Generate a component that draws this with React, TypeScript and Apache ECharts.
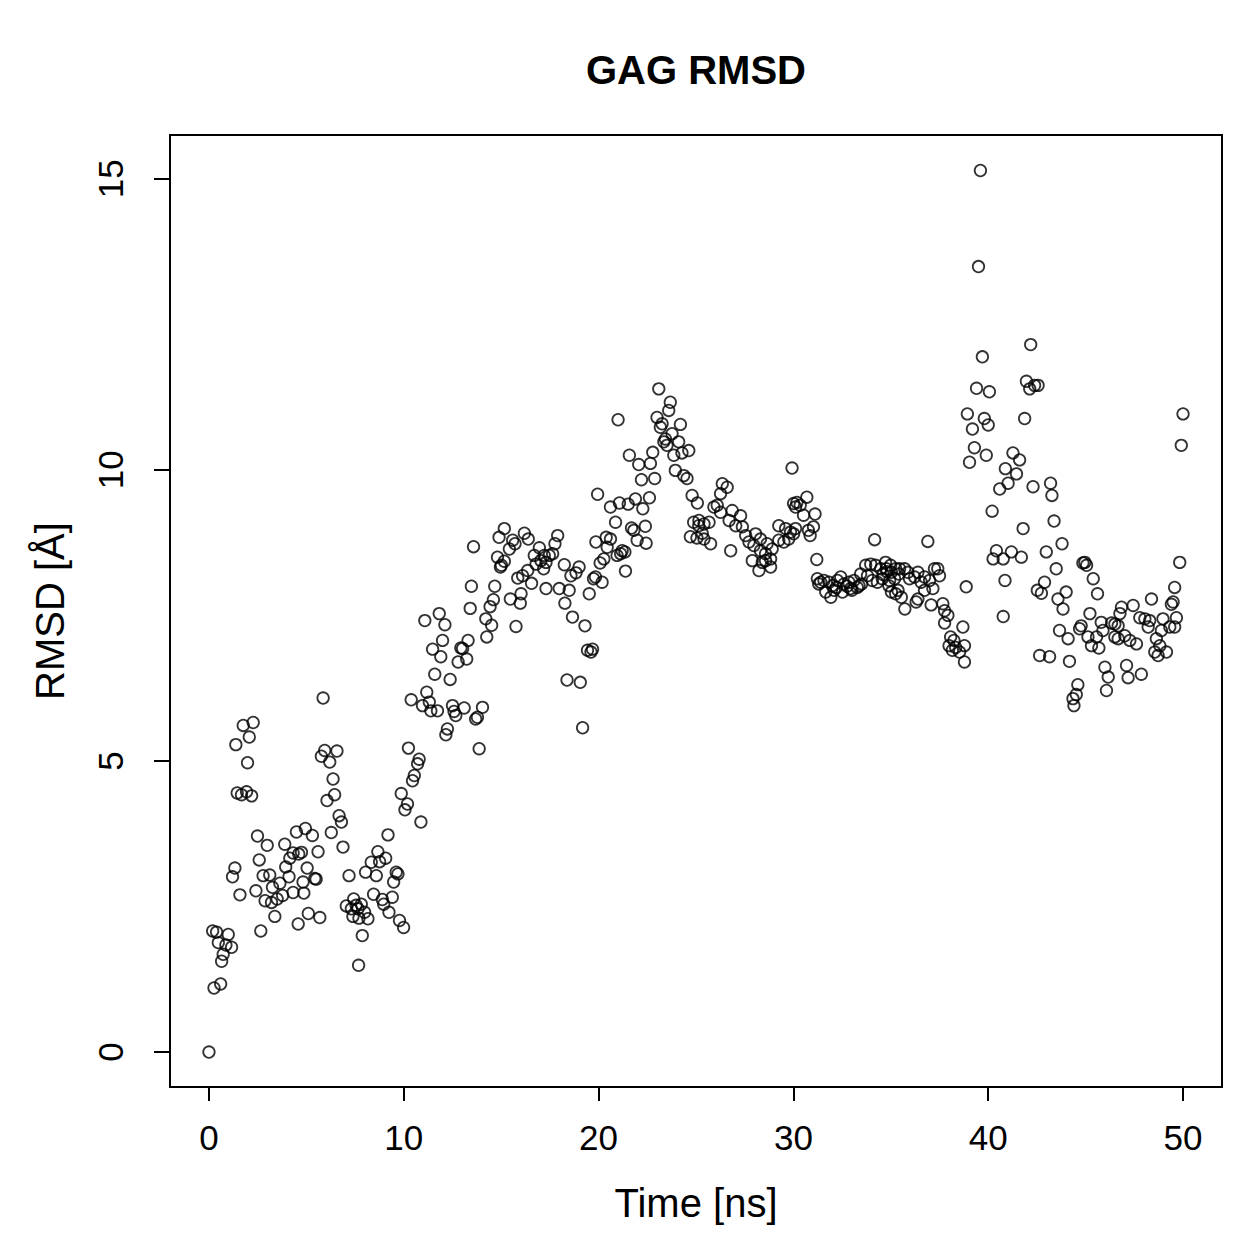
import React, { useEffect, useRef } from "react";
import * as echarts from "echarts";

// RMSD of the GAG chain along the trajectory: [time (ns), RMSD (Å)]
const rmsd0to5: number[][] = [
  [0, 0], [0.19, 2.08], [0.26, 1.1], [0.39, 2.06], [0.48, 1.88], [0.6, 1.17], [0.65, 1.56], [0.73, 1.68],
  [0.87, 1.84], [0.99, 2.02], [1.16, 1.8], [1.21, 3.01], [1.33, 3.16], [1.38, 5.28], [1.45, 4.45],
  [1.59, 2.7], [1.67, 4.42], [1.76, 5.61], [1.93, 4.47], [1.98, 4.97], [2.07, 5.41], [2.19, 4.4],
  [2.27, 5.66], [2.41, 2.77], [2.49, 3.71], [2.58, 3.3], [2.66, 2.08], [2.78, 3.03], [2.88, 2.6],
  [2.99, 3.55], [3.12, 3.04], [3.21, 2.57], [3.26, 2.83], [3.38, 2.33], [3.5, 2.63], [3.64, 2.9],
  [3.78, 2.69], [3.89, 3.57], [3.94, 3.18], [4.11, 3.01], [4.15, 3.33], [4.32, 2.74], [4.32, 3.42],
  [4.49, 3.78], [4.58, 2.2], [4.61, 3.4], [4.75, 3.43], [4.83, 2.92], [4.87, 2.73], [4.95, 3.84],
];

const rmsd5to10: number[][] = [
  [5.04, 3.16], [5.1, 2.38], [5.31, 3.72], [5.43, 2.98], [5.5, 2.97], [5.6, 3.44], [5.69, 2.31],
  [5.77, 5.08], [5.86, 6.08], [5.94, 5.18], [6.06, 4.32], [6.2, 4.98], [6.28, 3.77], [6.37, 4.69],
  [6.45, 4.42], [6.57, 5.17], [6.68, 4.06], [6.8, 3.95], [6.88, 3.52], [7.05, 2.51], [7.19, 3.03],
  [7.31, 2.46], [7.39, 2.33], [7.43, 2.63], [7.55, 2.52], [7.65, 2.46], [7.7, 2.3], [7.68, 1.49],
  [7.82, 2.54], [7.87, 2.0], [7.99, 2.4], [8.04, 3.09], [8.16, 2.29], [8.33, 3.26], [8.45, 2.71],
  [8.59, 3.03], [8.67, 3.44], [8.76, 3.27], [8.9, 2.62], [8.97, 2.54], [9.07, 3.33], [9.19, 3.73],
  [9.24, 2.4], [9.41, 2.66], [9.48, 2.92], [9.61, 3.09], [9.7, 3.06], [9.78, 2.26], [9.87, 4.44],
  [9.99, 2.14],
];

const rmsd10to15: number[][] = [
  [10.06, 4.16], [10.19, 4.26], [10.24, 5.22], [10.38, 6.05], [10.45, 4.66], [10.54, 4.75],
  [10.71, 4.95], [10.79, 5.03], [10.88, 3.95], [10.96, 5.95], [11.08, 7.41], [11.18, 6.18],
  [11.31, 6.01], [11.39, 5.86], [11.48, 6.92], [11.59, 6.49], [11.73, 5.86], [11.82, 7.53],
  [11.9, 6.79], [11.99, 7.07], [12.11, 7.34], [12.16, 5.45], [12.24, 5.55], [12.38, 6.4],
  [12.5, 5.95], [12.58, 5.85], [12.67, 5.78], [12.79, 6.7], [12.93, 6.94], [13.02, 6.93],
  [13.1, 5.91], [13.23, 6.75], [13.3, 7.07], [13.41, 7.62], [13.47, 8.0], [13.58, 8.68],
  [13.69, 5.72], [13.78, 5.75], [13.87, 5.21], [14.04, 5.92], [14.21, 7.44], [14.26, 7.13],
  [14.43, 7.65], [14.51, 7.33], [14.6, 7.77], [14.67, 8.0], [14.81, 8.5], [14.89, 8.84], [14.96, 8.33],
];

const rmsd15to20: number[][] = [
  [15.01, 8.36], [15.16, 8.99], [15.16, 8.43], [15.42, 8.64], [15.47, 7.78], [15.59, 8.79],
  [15.71, 8.73], [15.76, 7.31], [15.85, 8.14], [15.98, 7.71], [16.02, 7.87], [16.1, 8.18],
  [16.19, 8.91], [16.36, 8.27], [16.39, 8.81], [16.56, 8.05], [16.7, 8.53], [16.79, 8.38],
  [16.96, 8.66], [17.04, 8.44], [17.18, 8.3], [17.21, 8.53], [17.3, 8.41], [17.3, 7.96],
  [17.47, 8.53], [17.64, 8.56], [17.76, 8.73], [17.9, 8.87], [17.98, 7.96], [18.24, 8.37],
  [18.27, 7.71], [18.38, 6.39], [18.49, 7.93], [18.58, 8.18], [18.66, 7.47], [18.84, 8.23],
  [19.0, 8.33], [19.06, 6.35], [19.18, 5.57], [19.3, 7.32], [19.43, 6.9], [19.52, 7.87],
  [19.61, 6.87], [19.69, 6.92], [19.74, 8.13], [19.84, 8.16], [19.86, 8.76], [19.95, 9.58],
];

const rmsd20to25: number[][] = [
  [20.08, 8.4], [20.18, 8.07], [20.27, 8.47], [20.39, 8.84], [20.44, 8.67], [20.61, 9.36],
  [20.61, 8.81], [20.87, 9.1], [20.95, 8.53], [21.0, 10.86], [21.07, 9.43], [21.13, 8.56],
  [21.21, 8.61], [21.35, 8.59], [21.38, 8.26], [21.52, 9.41], [21.58, 10.25], [21.69, 9.0],
  [21.81, 8.96], [21.89, 9.5], [21.98, 8.79], [22.06, 10.09], [22.2, 9.83], [22.27, 9.33],
  [22.4, 9.03], [22.44, 8.74], [22.61, 9.52], [22.66, 10.11], [22.78, 10.3], [22.88, 9.85],
  [23.0, 10.9], [23.09, 11.39], [23.17, 10.73], [23.26, 10.79], [23.35, 10.48], [23.43, 10.53],
  [23.51, 10.42], [23.6, 11.02], [23.68, 11.16], [23.77, 10.62], [23.86, 10.25], [23.94, 9.99],
  [24.11, 10.48], [24.2, 10.78], [24.28, 10.29], [24.37, 9.9], [24.54, 9.85], [24.63, 10.33],
  [24.71, 8.85], [24.8, 9.56], [24.88, 9.1],
];

const rmsd25to30: number[][] = [
  [25.05, 8.83], [25.07, 9.43], [25.14, 9.04], [25.15, 9.13], [25.32, 8.91], [25.41, 9.07],
  [25.41, 8.81], [25.67, 9.1], [25.75, 8.73], [25.92, 9.36], [26.09, 9.39], [26.26, 9.27],
  [26.26, 9.59], [26.35, 9.76], [26.6, 9.7], [26.7, 9.13], [26.78, 8.61], [26.86, 9.3],
  [27.04, 9.04], [27.29, 9.21], [27.38, 9.02], [27.55, 8.87], [27.72, 8.76], [27.89, 8.44],
  [27.97, 8.7], [28.06, 8.9], [28.23, 8.27], [28.31, 8.81], [28.31, 8.61], [28.4, 8.41],
  [28.57, 8.56], [28.65, 8.73], [28.57, 8.44], [28.83, 8.47], [28.83, 8.33], [28.91, 8.64],
  [29.25, 9.04], [29.25, 8.79], [29.51, 8.76], [29.6, 8.99], [29.76, 8.81], [29.85, 8.93],
  [29.93, 10.03],
];

const rmsd30to35: number[][] = [
  [30.01, 9.42], [30.01, 8.9], [30.11, 9.36], [30.11, 8.99], [30.18, 9.44], [30.35, 9.39],
  [30.52, 9.22], [30.69, 9.53], [30.77, 8.96], [30.86, 8.87], [31.03, 9.02], [31.11, 9.24],
  [31.2, 8.46], [31.23, 8.13], [31.3, 8.04], [31.4, 8.07], [31.57, 8.1], [31.66, 7.9],
  [31.83, 8.07], [31.92, 7.81], [32.0, 8.01], [32.09, 7.93], [32.2, 7.98], [32.26, 8.1],
  [32.43, 8.16], [32.52, 7.9], [32.6, 8.04], [32.75, 8.0], [32.85, 8.07], [32.94, 7.96],
  [33.0, 7.93], [33.11, 8.1], [33.28, 7.98], [33.37, 8.01], [33.45, 8.21], [33.5, 8.04],
  [33.71, 8.36], [33.8, 8.18], [33.97, 8.38], [34.05, 8.1], [34.17, 8.8], [34.22, 8.36],
  [34.31, 8.07], [34.48, 8.3], [34.56, 8.13], [34.6, 8.2], [34.73, 8.41], [34.77, 8.3],
  [34.8, 8.25], [34.9, 8.01], [34.94, 8.1], [34.99, 8.36],
];

const rmsd35to40: number[][] = [
  [35.03, 8.24], [35.03, 7.9], [35.19, 8.13], [35.25, 8.3], [35.25, 7.87], [35.37, 7.93],
  [35.42, 8.21], [35.45, 8.3], [35.54, 7.81], [35.71, 8.3], [35.72, 7.61], [35.88, 8.24],
  [35.96, 8.13], [36.22, 8.16], [36.3, 7.73], [36.39, 8.24], [36.39, 7.78], [36.56, 8.07],
  [36.73, 8.16], [36.73, 7.93], [36.9, 8.77], [36.99, 8.1], [37.07, 7.68], [37.16, 7.96],
  [37.24, 8.3], [37.41, 8.3], [37.5, 8.18], [37.67, 7.7], [37.76, 7.58], [37.76, 7.37],
  [37.93, 7.5], [37.99, 6.98], [38.07, 7.13], [38.16, 6.9], [38.24, 7.07], [38.33, 6.95],
  [38.53, 6.87], [38.7, 7.3], [38.78, 6.98], [38.78, 6.7], [38.87, 7.99], [38.93, 10.96],
  [39.04, 10.13], [39.19, 10.7], [39.29, 10.38], [39.4, 11.4], [39.5, 13.49], [39.6, 15.14],
  [39.7, 11.94], [39.8, 10.88], [39.9, 10.25],
];

const rmsd40to45: number[][] = [
  [40.0, 10.77], [40.06, 11.34], [40.2, 9.29], [40.25, 8.47], [40.42, 8.61], [40.59, 9.67],
  [40.77, 8.47], [40.77, 7.48], [40.86, 8.1], [40.88, 10.02], [41.02, 9.77], [41.19, 8.59],
  [41.27, 10.29], [41.45, 9.93], [41.61, 10.17], [41.7, 8.5], [41.79, 8.99], [41.87, 10.88],
  [41.96, 11.52], [42.13, 11.39], [42.18, 12.15], [42.3, 9.71], [42.38, 11.45], [42.52, 7.93],
  [42.56, 11.45], [42.64, 6.81], [42.73, 7.88], [42.89, 8.07], [42.98, 8.59], [43.15, 6.79],
  [43.2, 9.77], [43.27, 9.56], [43.38, 9.12], [43.49, 8.3], [43.58, 7.78], [43.66, 7.24],
  [43.79, 8.73], [43.84, 7.61], [44.0, 7.9], [44.1, 7.1], [44.17, 6.71], [44.35, 6.07],
  [44.4, 5.95], [44.52, 6.14], [44.6, 6.31], [44.69, 7.27], [44.77, 7.32], [44.86, 8.4], [44.96, 8.41],
];

const rmsd45to50: number[][] = [
  [45.05, 8.36], [45.12, 7.13], [45.22, 7.53], [45.3, 6.98], [45.39, 8.13], [45.56, 7.13],
  [45.61, 7.87], [45.68, 6.94], [45.8, 7.38], [45.89, 7.24], [45.99, 6.61], [46.07, 6.21],
  [46.16, 6.44], [46.33, 7.37], [46.5, 7.35], [46.5, 7.13], [46.67, 7.32], [46.67, 7.1],
  [46.76, 7.53], [46.84, 7.64], [47.01, 7.15], [47.1, 6.64], [47.18, 6.43], [47.27, 7.07],
  [47.44, 7.67], [47.61, 7.01], [47.78, 7.46], [47.86, 6.49], [48.04, 7.44], [48.21, 7.3],
  [48.29, 7.41], [48.38, 7.78], [48.55, 6.87], [48.63, 7.1], [48.72, 6.81], [48.81, 6.98],
  [48.89, 7.24], [48.97, 7.44], [49.15, 6.87], [49.32, 7.3], [49.4, 7.69], [49.49, 7.73],
  [49.57, 7.98], [49.57, 7.3], [49.66, 7.46], [49.83, 8.41], [49.91, 10.42], [50.0, 10.96],
];

const xTicks = [0, 10, 20, 30, 40, 50];
const yTicks = [0, 5, 10, 15];

const TITLE = "GAG RMSD";
const X_NAME = "Time [ns]";
const Y_NAME = "RMSD [Å]";

const FONT = "'Liberation Sans', Arial, Helvetica, sans-serif";

export default function App() {
  const ref = useRef<HTMLDivElement>(null);

  useEffect(() => {
    if (!ref.current) return;
    const chart = echarts.init(ref.current, undefined, { renderer: "svg" });

    const points = [
      ...rmsd0to5, ...rmsd5to10, ...rmsd10to15, ...rmsd15to20, ...rmsd20to25,
      ...rmsd25to30, ...rmsd30to35, ...rmsd35to40, ...rmsd40to45, ...rmsd45to50,
    ];

    const plot = { left: 170, top: 135, width: 1052, height: 952 };

    chart.setOption({
      animation: false,
      backgroundColor: "#ffffff",
      grid: {
        ...plot,
        show: true,
        borderColor: "#000",
        borderWidth: 2,
        backgroundColor: "transparent",
        containLabel: false,
      },
      xAxis: {
        type: "value",
        position: "bottom",
        min: -2,
        max: 52,
        axisLine: { show: false, onZero: false },
        splitLine: { show: false },
        axisTick: {
          show: true,
          inside: false,
          customValues: xTicks,
          length: 14,
          lineStyle: { color: "#000", width: 2 },
        },
        axisLabel: {
          customValues: xTicks,
          color: "#000",
          fontSize: 35,
          fontFamily: FONT,
          margin: 33,
        },
      },
      yAxis: {
        type: "value",
        position: "left",
        min: -0.6,
        max: 15.75,
        axisLine: { show: false, onZero: false },
        splitLine: { show: false },
        axisTick: {
          show: true,
          inside: false,
          customValues: yTicks,
          length: 16,
          lineStyle: { color: "#000", width: 2 },
        },
        axisLabel: {
          customValues: yTicks,
          color: "#000",
          fontSize: 35,
          fontFamily: FONT,
          rotate: 90,
          margin: 42,
        },
      },
      graphic: [
        {
          type: "text",
          x: plot.left + plot.width / 2,
          y: 70,
          style: {
            text: TITLE,
            fill: "#000",
            font: `bold 40px ${FONT}`,
            textAlign: "center",
            textVerticalAlign: "middle",
          },
        },
        {
          type: "text",
          x: plot.left + plot.width / 2,
          y: 1203,
          style: {
            text: X_NAME,
            fill: "#000",
            font: `40px ${FONT}`,
            textAlign: "center",
            textVerticalAlign: "middle",
          },
        },
        {
          type: "text",
          x: 50,
          y: plot.top + plot.height / 2,
          rotation: Math.PI / 2,
          style: {
            text: Y_NAME,
            fill: "#000",
            font: `40px ${FONT}`,
            textAlign: "center",
            textVerticalAlign: "middle",
          },
        },
      ],
      series: [
        {
          type: "scatter",
          data: points,
          symbol: "circle",
          symbolSize: 11.5,
          itemStyle: {
            color: "rgba(0,0,0,0)",
            borderColor: "#000",
            borderWidth: 1.8,
          },
          emphasis: { disabled: true },
          silent: true,
        },
      ],
    });

    return () => chart.dispose();
  }, []);

  return (
    <div
      ref={ref}
      style={{ position: "absolute", left: 0, top: 0, width: 1259, height: 1259 }}
    />
  );
}
